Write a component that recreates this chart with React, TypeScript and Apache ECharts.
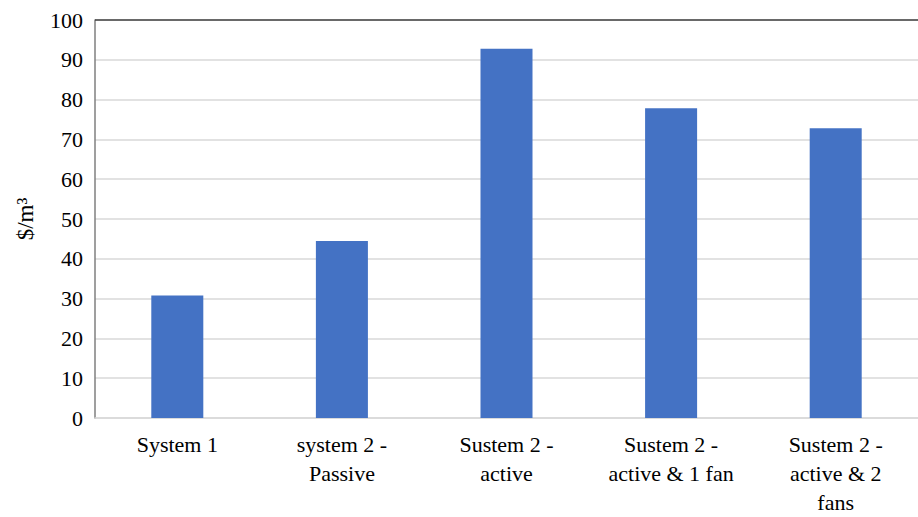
import React, { useEffect, useRef } from "react";
import * as echarts from "echarts";

const categories = [
  "System 1",
  "system 2 -\nPassive",
  "Sustem 2 -\nactive",
  "Sustem 2 -\nactive & 1 fan",
  "Sustem 2 -\nactive & 2\nfans",
];
const values = [30.8, 44.5, 92.8, 77.8, 72.8];
const yTicks = { min: 0, max: 100, interval: 10 };
const yName = "$/m³";

export default function App() {
  const ref = useRef<HTMLDivElement>(null);
  useEffect(() => {
    if (!ref.current) return;
    const chart = echarts.init(ref.current, null, { renderer: "svg" });
    const font = "Times New Roman, Liberation Serif, DejaVu Serif, serif";
    chart.setOption({
      animation: false,
      backgroundColor: "#ffffff",
      textStyle: { fontFamily: font },
      grid: { left: 95, right: 0, top: 20, bottom: 97, containLabel: false },
      xAxis: {
        type: "category",
        data: categories,
        axisLine: { show: true, lineStyle: { color: "#d9d9d9", width: 1.5 } },
        axisTick: { show: false },
        axisLabel: {
          color: "#000",
          fontSize: 22,
          fontFamily: font,
          lineHeight: 29,
          margin: 12,
          interval: 0,
          align: "center",
        },
      },
      yAxis: {
        type: "value",
        min: yTicks.min,
        max: yTicks.max,
        interval: yTicks.interval,
        name: yName,
        nameLocation: "middle",
        nameGap: 58,
        nameRotate: 90,
        nameTextStyle: { color: "#000", fontSize: 23, fontFamily: font },
        axisLine: { show: true, lineStyle: { color: "#7f7f7f", width: 1.5 } },
        axisTick: { show: false },
        axisLabel: { color: "#000", fontSize: 22, fontFamily: font, margin: 12 },
        splitLine: { show: true, lineStyle: { color: "#d9d9d9", width: 1.5 } },
      },
      series: [
        {
          type: "bar",
          data: values,
          barWidth: "31.6%",
          itemStyle: { color: "#4472C4" },
          markLine: {
            silent: true,
            symbol: "none",
            label: { show: false },
            lineStyle: { color: "#404040", width: 1.5, type: "solid" },
            data: [{ yAxis: yTicks.max }],
          },
        },
      ],
    });
    return () => chart.dispose();
  }, []);
  return (
    <div
      ref={ref}
      style={{ position: "absolute", left: 0, top: 0, width: 918, height: 517 }}
    />
  );
}
